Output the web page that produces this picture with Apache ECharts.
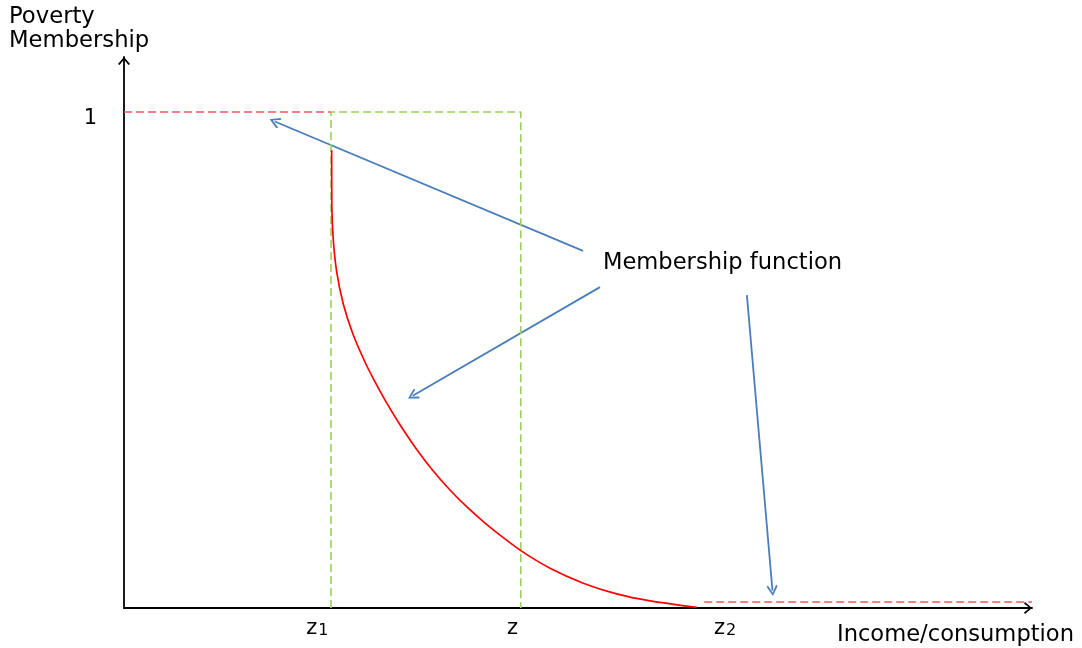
<!DOCTYPE html>
<html>
<head>
<meta charset="utf-8">
<script src="https://cdn.jsdelivr.net/npm/echarts@6/dist/echarts.min.js"></script>
<style>html,body{margin:0;padding:0;background:#fff}#c{width:1082px;height:648px}</style>
</head>
<body>
<div id="c"></div>
<script>
// ---- data ----
const z1 = 22.8, z = 43.7, z2 = 63.1;
const upperLevel = 1;
const tailLevel = 0.012;
const tailStart = 63.9, tailEnd = 100;
const curveX = [22.87, 22.89, 23.05, 23.43, 24.15, 25.22, 26.54, 27.53, 28.96, 30.40, 32.24, 34.06, 35.90, 37.74, 39.57, 41.41, 43.83, 46.92, 50.58, 54.26, 57.93, 63.07];
const curveY = [0.923, 0.810, 0.742, 0.677, 0.613, 0.552, 0.496, 0.460, 0.4125, 0.3696, 0.3198, 0.2762, 0.2379, 0.2042, 0.1742, 0.1470, 0.1141, 0.0802, 0.0500, 0.0284, 0.0143, 0.0012];
const xTickValues = [21.3, 42.8, 66.2];
const xTickMain = ['z', 'z', 'z'];
const xTickSub = ['1', '', '2'];
const yTickValues = [1];
const yTickLabels = ['1'];
const arrowFrom = [[50.55, 0.720], [52.42, 0.647], [68.6, 0.631]];
const arrowTo = [[16.6, 0.981], [31.8, 0.428], [71.42, 0.035]];
const noteText = 'Membership function';
const notePos = [52.75, 0.696];

const FONT = 'DejaVu Sans';
const chevron = 'path://M0,7 L6,0 L12,7 L10.5,8 L6,2.4 L1.5,8 Z';
const txt = { fontFamily: FONT, color: '#000' };

const chart = echarts.init(document.getElementById('c'));
chart.setOption({
  animation: false,
  backgroundColor: '#fff',
  title: [
    { text: 'Poverty\nMembership', left: 9, top: 5, padding: 0,
      textStyle: { fontFamily: FONT, fontSize: 22.7, fontWeight: 'normal', color: '#000', lineHeight: 24 } },
    { text: 'Income/consumption', right: 8, top: 623, padding: 0,
      textStyle: { fontFamily: FONT, fontSize: 22.6, fontWeight: 'normal', color: '#000', lineHeight: 24 } }
  ],
  grid: { left: 124, right: 50, top: 57, bottom: 40, containLabel: false },
  xAxis: {
    type: 'value', min: 0, max: 100,
    axisLine: { show: true, onZero: false, symbol: ['none', chevron], symbolSize: [12, 8], symbolOffset: [0, -4],
      lineStyle: { color: '#000', width: 1.8 } },
    axisTick: { show: false }, splitLine: { show: false }, axisLabel: { show: false }
  },
  yAxis: {
    type: 'value', min: 0, max: 1.111,
    axisLine: { show: true, onZero: false, symbol: ['none', chevron], symbolSize: [12, 8], symbolOffset: [0, -4],
      lineStyle: { color: '#000', width: 1.8 } },
    axisTick: { show: false }, splitLine: { show: false }, axisLabel: { show: false }
  },
  series: [
    { type: 'line', showSymbol: false, silent: true,
      data: [[z1, 0], [z1, upperLevel], [z, upperLevel], [z, 0]],
      lineStyle: { color: '#9bd05a', width: 1.6, type: [8, 4] } },
    { type: 'line', showSymbol: false, silent: true,
      data: [[0, upperLevel], [z1, upperLevel]],
      lineStyle: { color: '#f25a5a', width: 1.5, type: [8, 4] } },
    { type: 'line', showSymbol: false, silent: true, smooth: 0.25,
      data: curveX.map((x, i) => [x, curveY[i]]),
      lineStyle: { color: '#ff0000', width: 1.7 } },
    { type: 'line', showSymbol: false, silent: true,
      data: [[tailStart, tailLevel], [tailEnd, tailLevel]],
      lineStyle: { color: '#f25a5a', width: 1.5, type: [8, 4] } },
    { type: 'lines', coordinateSystem: 'cartesian2d', silent: true,
      symbol: ['none', chevron], symbolSize: [16, 11],
      lineStyle: { color: '#4a7ebb', width: 1.8, curveness: 0, opacity: 1 },
      data: arrowFrom.map((f, i) => ({ coords: [f, arrowTo[i]] })) },
    { type: 'scatter', symbolSize: 0, silent: true, itemStyle: { opacity: 1 },
      data: [notePos],
      label: Object.assign({ show: true, position: 'right', distance: 0, formatter: noteText, fontSize: 22.6 }, txt) },
    // x tick labels
    { type: 'scatter', symbolSize: 0, silent: true, itemStyle: { opacity: 1 },
      data: xTickValues.map((v, i) => ({ value: [v, 0], name: String(i) })),
      label: { show: true, position: 'bottom', distance: 7,
        formatter: function (p) {
          const i = +p.name;
          return '{a|' + xTickMain[i] + '}' + (xTickSub[i] ? '{s|' + xTickSub[i] + '}' : '');
        },
        rich: {
          a: { fontFamily: FONT, fontSize: 21, color: '#000', lineHeight: 24, verticalAlign: 'bottom' },
          s: { fontFamily: FONT, fontSize: 16, color: '#000', lineHeight: 6, verticalAlign: 'bottom', padding: [0, 0, 0, 1] }
        } } },
    // y tick labels
    { type: 'scatter', symbolSize: 0, silent: true, itemStyle: { opacity: 1 },
      data: yTickValues.map((v, i) => ({ value: [0, v], name: yTickLabels[i] })),
      label: Object.assign({ show: true, position: 'left', distance: 27, offset: [0, 6], formatter: '{b}', fontSize: 21 }, txt) }
  ]
});
</script>
</body>
</html>
